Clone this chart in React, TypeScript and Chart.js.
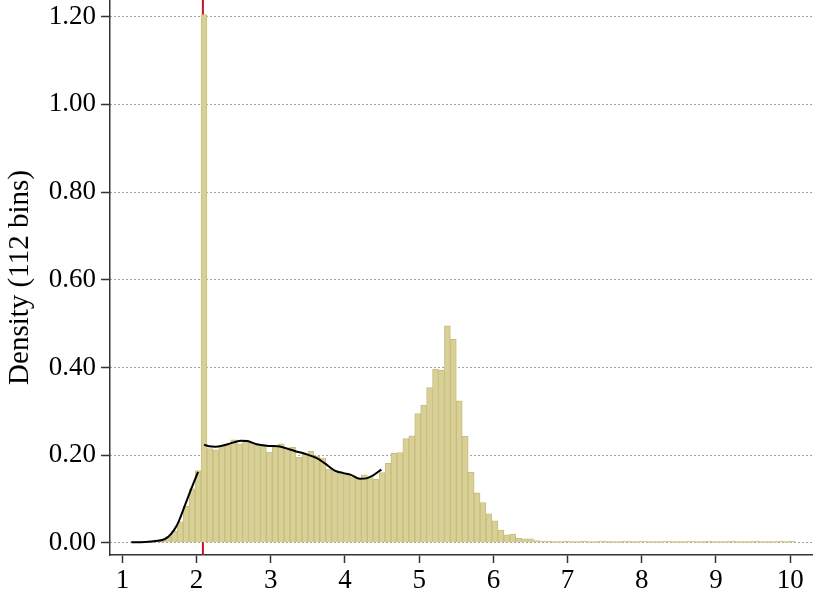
import React, { useEffect, useRef } from 'react';
import { Chart, registerables } from 'chart.js';

Chart.register(...registerables);

// Histogram definition: 112 bins starting at 1.1, width 0.08
const binStart = 1.1;
const binWidth = 0.08;
const density = [
  0.002, 0.003, 0.003, 0.003, 0.004, 0.007, 0.014, 0.026, 0.048, 0.083,
  0.123, 0.165, 1.205, 0.215, 0.212, 0.221, 0.223, 0.235, 0.226, 0.233,
  0.227, 0.224, 0.224, 0.207, 0.221, 0.226, 0.217, 0.218, 0.195, 0.203,
  0.209, 0.197, 0.193, 0.168, 0.164, 0.160, 0.158, 0.151, 0.147, 0.155,
  0.151, 0.145, 0.160, 0.181, 0.204, 0.206, 0.238, 0.244, 0.295, 0.314,
  0.354, 0.396, 0.394, 0.495, 0.464, 0.324, 0.243, 0.161, 0.114, 0.092,
  0.066, 0.050, 0.029, 0.018, 0.020, 0.010, 0.009, 0.009, 0.005, 0.004,
  0.004, 0.003, 0.003, 0.004, 0.003, 0.003, 0.004, 0.003, 0.003, 0.004,
  0.003, 0.003, 0.003, 0.004, 0.003, 0.003, 0.004, 0.003, 0.003, 0.003,
  0.004, 0.003, 0.003, 0.003, 0.004, 0.003, 0.003, 0.004, 0.003, 0.003,
  0.003, 0.004, 0.003, 0.003, 0.003, 0.004, 0.003, 0.003, 0.003, 0.004,
  0.003, 0.004,
];

// Kernel density curve, lower segment
const kdeLowX = [1.12, 1.3, 1.45, 1.55, 1.62, 1.7, 1.76, 1.84, 1.93, 2.02];
const kdeLowY = [0.001, 0.002, 0.004, 0.007, 0.014, 0.03, 0.049, 0.084, 0.124, 0.162];

// Kernel density curve, upper segment
const kdeHighX = [2.1, 2.17, 2.25, 2.38, 2.5, 2.6, 2.68, 2.81, 2.97, 3.1, 3.2, 3.33, 3.46, 3.62, 3.73, 3.87, 3.98, 4.08, 4.2, 4.29, 4.38, 4.49];
const kdeHighY = [0.224, 0.22, 0.219, 0.223, 0.229, 0.233, 0.232, 0.225, 0.221, 0.22, 0.216, 0.209, 0.203, 0.193, 0.181, 0.164, 0.159, 0.155, 0.146, 0.147, 0.154, 0.167];

// Reference line
const refLineX = 2.085;

const xTicks = [1, 2, 3, 4, 5, 6, 7, 8, 9, 10];
const yTicks = [0, 0.2, 0.4, 0.6, 0.8, 1.0, 1.2];
const yTitle = 'Density (112 bins)';

const FONT = 'Liberation Serif';

export default function App() {
  const ref = useRef<HTMLCanvasElement>(null);

  useEffect(() => {
    document.body.style.margin = '0';
    const canvas = ref.current;
    if (!canvas) return;
    const chart = new Chart(canvas, {
      type: 'bar',
      data: {
        datasets: [
          {
            type: 'line',
            data: [
              { x: refLineX, y: -0.1 },
              { x: refLineX, y: 1.4 },
            ],
            borderColor: '#c8102e',
            borderWidth: 2,
            pointRadius: 0,
            order: 3,
          } as any,
          {
            type: 'bar',
            data: density.map((d, i) => ({ x: binStart + (i + 0.5) * binWidth, y: d })),
            backgroundColor: 'rgb(216,208,150)',
            borderColor: 'rgb(198,190,122)',
            borderWidth: 1,
            barPercentage: 1,
            categoryPercentage: 1,
            order: 2,
          } as any,
          {
            type: 'line',
            data: kdeLowX.map((x, i) => ({ x, y: kdeLowY[i] })),
            borderColor: '#000',
            borderWidth: 2,
            pointRadius: 0,
            cubicInterpolationMode: 'monotone',
            order: 1,
          } as any,
          {
            type: 'line',
            data: kdeHighX.map((x, i) => ({ x, y: kdeHighY[i] })),
            borderColor: '#000',
            borderWidth: 2,
            pointRadius: 0,
            cubicInterpolationMode: 'monotone',
            order: 1,
          } as any,
        ],
      },
      options: {
        responsive: false,
        animation: false,
        layout: { padding: { top: 0, right: 18, bottom: 0, left: 0 } },
        plugins: { legend: { display: false }, tooltip: { enabled: false } },
        scales: {
          x: {
            type: 'linear',
            min: 0.833,
            max: 10.294,
            offset: false,
            afterBuildTicks: (s: any) => {
              s.ticks = xTicks.map((v) => ({ value: v }));
            },
            afterFit: (s: any) => {
              s.height = 49;
              s.paddingLeft = 0;
              s.paddingRight = 0;
            },
            ticks: {
              autoSkip: false,
              maxRotation: 0,
              padding: 2,
              color: '#000',
              font: { family: FONT, size: 27 },
              callback: (v: any) => String(v),
            },
            grid: {
              offset: false,
              drawOnChartArea: false,
              drawTicks: true,
              tickLength: 8,
              tickColor: '#333',
              tickWidth: 1.5,
            },
            border: { display: true, color: '#333', width: 1.5 },
          },
          y: {
            type: 'linear',
            min: -0.0278,
            max: 1.238,
            afterBuildTicks: (s: any) => {
              s.ticks = yTicks.map((v) => ({ value: v }));
            },
            afterFit: (s: any) => {
              s.width = 110;
              s.paddingTop = 0;
              s.paddingBottom = 0;
            },
            ticks: {
              autoSkip: false,
              padding: 5,
              color: '#000',
              font: { family: FONT, size: 27 },
              callback: (v: any) => Number(v).toFixed(2),
            },
            grid: {
              color: '#444',
              lineWidth: 1,
              drawTicks: true,
              tickLength: 9,
              tickColor: '#333',
              tickWidth: 1.5,
              tickBorderDash: [],
            },
            border: { display: true, color: '#333', width: 1.5, dash: [1, 3] },
            title: {
              display: true,
              text: yTitle,
              color: '#000',
              font: { family: FONT, size: 29 },
              padding: { top: 3, bottom: 0 },
            },
          },
        },
      },
    });
    return () => chart.destroy();
  }, []);

  return (
    <div style={{ width: 830, height: 604, background: '#fff' }}>
      <canvas ref={ref} width={830} height={604} style={{ display: 'block' }} />
    </div>
  );
}
